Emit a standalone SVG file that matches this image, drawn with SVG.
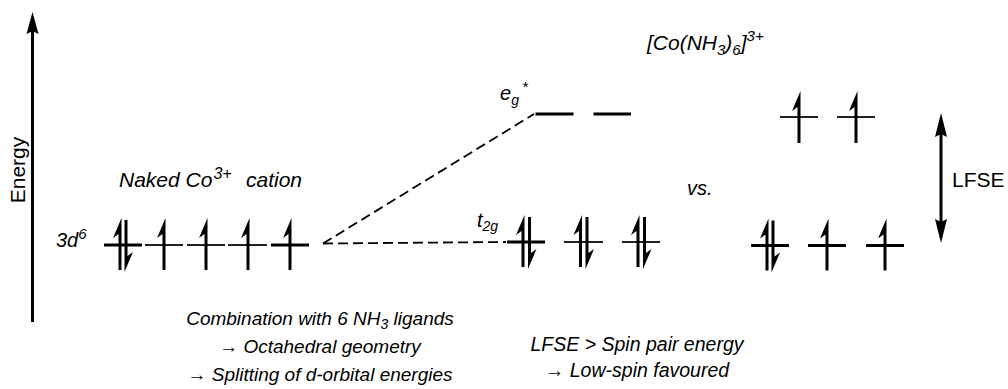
<svg xmlns="http://www.w3.org/2000/svg" xmlns:xlink="http://www.w3.org/1999/xlink" width="1008" height="389" viewBox="0 0 1008 389">
<style>
text{font-family:"Liberation Sans",Arial,sans-serif;fill:#000}
.it{font-style:italic}
.lv{stroke:#000;stroke-width:3;fill:none}
.lt{stroke:#222;stroke-width:2;fill:none}
.dash{stroke:#000;stroke-width:1.8;stroke-dasharray:10 5;fill:none}
.ax{stroke:#000;stroke-width:3;fill:none}
</style>
<defs>
<polygon id="eu" points="1.5,-27 -7,-7 -1.5,-11 -1.5,25 1.5,25" fill="#000"/>
</defs>
<rect width="1008" height="389" fill="#fff"/>

<g id="energy-axis">
<line class="ax" x1="32.5" y1="30" x2="32.5" y2="322"/>
<polygon points="32.5,12 38.5,34 32.5,31 26.5,34" fill="#000"/>
<text transform="translate(25,170) rotate(-90)" text-anchor="middle" font-size="21">Energy</text>
</g>

<g id="connectors">
<line class="dash" x1="323" y1="243.5" x2="534" y2="114"/>
<line class="dash" x1="323" y1="243.5" x2="506" y2="242"/>
</g>

<g id="naked-co">
<text class="it" x="119" y="187" font-size="21">Naked Co<tspan dx="1" dy="-8" font-size="16">3+</tspan><tspan x="246" dy="8">cation</tspan></text>
<text class="it" x="56" y="247" font-size="20">3d<tspan dy="-8" font-size="15">6</tspan></text>
<line class="lv" x1="104" y1="245" x2="142" y2="245"/>
<line class="lt" x1="145" y1="245" x2="183" y2="245"/>
<line class="lt" x1="187" y1="245" x2="225" y2="245"/>
<line class="lt" x1="228" y1="245" x2="267" y2="245"/>
<line class="lv" x1="271" y1="245" x2="309" y2="245"/>
<use xlink:href="#eu" transform="translate(120,245)"/>
<use xlink:href="#eu" transform="translate(126,245) rotate(180)"/>
<use xlink:href="#eu" transform="translate(164,245)"/>
<use xlink:href="#eu" transform="translate(206,245)"/>
<use xlink:href="#eu" transform="translate(248,245)"/>
<use xlink:href="#eu" transform="translate(290,245)"/>
</g>

<g id="complex-title">
<text class="it" x="647" y="50" font-size="21">[Co(NH<tspan font-size="15" dy="5">3</tspan><tspan dy="-5">)</tspan><tspan font-size="15" dy="5">6</tspan><tspan dy="-5">]</tspan><tspan font-size="15" dy="-9">3+</tspan></text>
</g>

<g id="ls-eg">
<text class="it" x="500" y="100" font-size="20">e<tspan font-size="14" dy="5">g</tspan><tspan font-size="15" dx="3" dy="-13">*</tspan></text>
<line class="lv" x1="535.5" y1="114" x2="573.5" y2="114"/>
<line class="lv" x1="593.5" y1="114" x2="631" y2="114"/>
</g>

<g id="ls-t2g">
<text class="it" x="477" y="227" font-size="20">t<tspan font-size="14" dy="4">2g</tspan></text>
<line class="lv" x1="507" y1="242" x2="545" y2="242"/>
<line class="lt" x1="564" y1="242" x2="603" y2="242"/>
<line class="lt" x1="622" y1="242" x2="660" y2="242"/>
<use xlink:href="#eu" transform="translate(523,242)"/>
<use xlink:href="#eu" transform="translate(529.5,242) rotate(180)"/>
<use xlink:href="#eu" transform="translate(580.5,242)"/>
<use xlink:href="#eu" transform="translate(587,242) rotate(180)"/>
<use xlink:href="#eu" transform="translate(638,242)"/>
<use xlink:href="#eu" transform="translate(644.5,242) rotate(180)"/>
</g>

<g id="vs-label">
<text class="it" x="687" y="195" font-size="20">vs.</text>
</g>

<g id="hs-eg">
<line class="lt" x1="780" y1="117" x2="818" y2="117"/>
<line class="lt" x1="837" y1="117" x2="875" y2="117"/>
<use xlink:href="#eu" transform="translate(799,118)"/>
<use xlink:href="#eu" transform="translate(856,118)"/>
</g>

<g id="hs-t2g">
<line class="lv" x1="751" y1="245.5" x2="789" y2="245.5"/>
<line class="lv" x1="808" y1="245.5" x2="846" y2="245.5"/>
<line class="lv" x1="866" y1="245.5" x2="904" y2="245.5"/>
<use xlink:href="#eu" transform="translate(767,245.5)"/>
<use xlink:href="#eu" transform="translate(773,245.5) rotate(180)"/>
<use xlink:href="#eu" transform="translate(827,245.5)"/>
<use xlink:href="#eu" transform="translate(885,245.5)"/>
</g>

<g id="lfse">
<line class="ax" x1="941" y1="130" x2="941" y2="226"/>
<polygon points="941,113 947,137 941,134 935,137" fill="#000"/>
<polygon points="941,243 947,219 941,222 935,219" fill="#000"/>
<text x="952" y="187" font-size="21">LFSE</text>
</g>

<g id="note-left">
<text class="it" x="320" y="325" font-size="19" text-anchor="middle">Combination with 6 NH<tspan font-size="14" dy="4">3</tspan><tspan dy="-4"> ligands</tspan></text>
<text class="it" x="320" y="353" font-size="19" text-anchor="middle">→ Octahedral geometry</text>
<text class="it" x="320" y="381" font-size="19" text-anchor="middle">→ Splitting of d-orbital energies</text>
</g>

<g id="note-right">
<text class="it" x="637" y="351" font-size="19.5" text-anchor="middle">LFSE &gt; Spin pair energy</text>
<text class="it" x="637" y="377" font-size="19.5" text-anchor="middle">→ Low-spin favoured</text>
</g>
</svg>
